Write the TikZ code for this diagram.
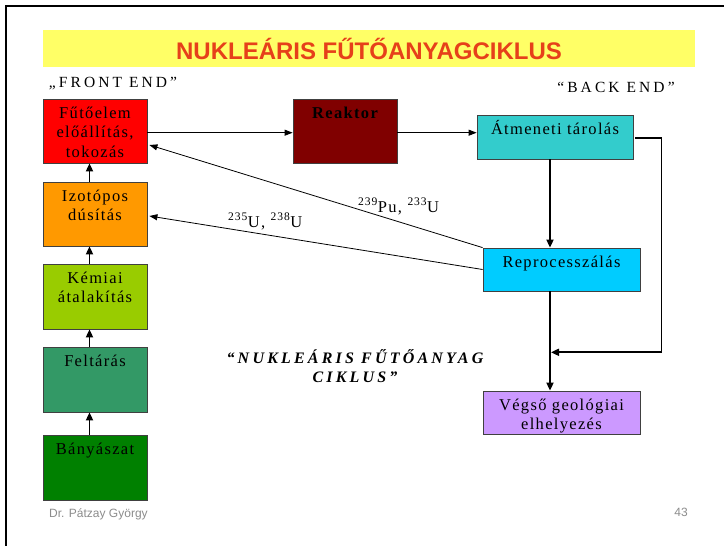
\documentclass[tikz,border=0pt]{standalone}
\usepackage{fontspec}
\setmainfont{Liberation Serif}
\newfontfamily\boxfam{Liberation Serif}[LetterSpace=8]
\newfontfamily\widefam{Liberation Serif}[LetterSpace=20]
\newfontfamily\sansfam{Liberation Sans}
\usetikzlibrary{arrows.meta}

\definecolor{bandyellow}{HTML}{FFFF66}
\definecolor{titlered}{HTML}{E6401A}
\definecolor{fuelred}{HTML}{FF0000}
\definecolor{enrichorange}{HTML}{FF9900}
\definecolor{chemgreen}{HTML}{99CC00}
\definecolor{millgreen}{HTML}{339966}
\definecolor{minegreen}{HTML}{008000}
\definecolor{reactorred}{HTML}{800000}
\definecolor{storageteal}{HTML}{33CCCC}
\definecolor{reprocblue}{HTML}{00CCFF}
\definecolor{finalviolet}{HTML}{CC99FF}
\definecolor{footgray}{HTML}{8C8C8C}

% top-aligned text block of a given box size
\newcommand\toptext[3]{\parbox[c][#2][t]{#1}{\centering\rule{0pt}{19pt}#3}}

\tikzset{
  stage/.style={draw=black!75, line width=0.8pt, inner sep=0pt,
                font=\boxfam\fontsize{16.5}{19.5}\selectfont},
  arr/.style={-{Triangle[length=8pt,width=6pt]}, line width=0.8pt},
  thickarr/.style={-{Triangle[length=8pt,width=7pt]}, line width=1.8pt},
  note/.style={font=\boxfam\fontsize{16.5}{19}\selectfont, inner sep=0pt},
  wide/.style={font=\widefam\fontsize{15.5}{18}\selectfont, inner sep=0pt},
  foot/.style={font=\sansfam\fontsize{12}{14}\selectfont, text=footgray, inner sep=0pt}
}

\begin{document}
\begin{tikzpicture}[x=1pt,y=-1pt]
\useasboundingbox (0,0) rectangle (724,546);
\fill[white] (0,0) rectangle (724,546);

% slide frame
\draw[line width=2.4pt] (6,546) -- (6,6) -- (724,6);

% title band
\fill[bandyellow] (43,30) rectangle (695,67);
\node[font=\sansfam\bfseries\fontsize{24}{28}\selectfont, text=titlered, inner sep=0pt]
  (title) at (369,48.5) {NUKLEÁRIS FŰTŐANYAGCIKLUS};

\node[wide, anchor=base] (front) at (113,87) {„FRONT END”};
\node[wide, anchor=base] (back) at (616,92) {“BACK END”};

% front end column
\node[stage, fill=fuelred] (fuel) at (95,131) {\toptext{104pt}{64pt}{Fűtőelem\\előállítás,\\tokozás}};
\node[stage, fill=enrichorange] (enrich) at (95,214) {\toptext{104pt}{64pt}{Izotópos\\dúsítás}};
\node[stage, fill=chemgreen] (chem) at (95,296.5) {\toptext{104pt}{65pt}{Kémiai\\átalakítás}};
\node[stage, fill=millgreen] (mill) at (95,379.5) {\toptext{104pt}{65pt}{Feltárás}};
\node[stage, fill=minegreen] (mine) at (95,467.5) {\toptext{104pt}{65pt}{Bányászat}};

% reactor and back end
\node[stage, fill=reactorred] (reactor) at (345,131) {\toptext{104pt}{64pt}{\bfseries Reaktor}};
\node[stage, fill=storageteal] (storage) at (555,137) {\toptext{156pt}{44pt}{Átmeneti tárolás}};
\node[stage, fill=reprocblue] (reproc) at (561.5,269.5) {\toptext{157pt}{43pt}{Reprocesszálás}};
\node[stage, fill=finalviolet] (final) at (561.5,412.5) {\toptext{157pt}{43pt}{Végső geológiai\\elhelyezés}};

% connectors
\coordinate (lcol) at (89.5,0);
\draw[thickarr] (mine.north -| lcol) -- (mill.south -| lcol);
\draw[thickarr] (mill.north -| lcol) -- (chem.south -| lcol);
\draw[thickarr] (chem.north -| lcol) -- (enrich.south -| lcol);
\draw[thickarr] (enrich.north -| lcol) -- (fuel.south -| lcol);

\draw[arr] ([yshift=-1.7pt]fuel.east) -- ([yshift=-1.7pt]reactor.west);
\draw[arr] ([yshift=-1.7pt]reactor.east) -- ([yshift=-1.7pt]reactor.east -| storage.west);

\coordinate (col) at (550,0);
\draw[thickarr] (storage.south -| col) -- (reproc.north -| col);
\draw[thickarr] (reproc.south -| col) -- (final.north -| col);

\coordinate (bypassA) at (661.5,137.7);
\coordinate (bypassB) at (661.5,352.3);
\draw[thickarr, line join=miter] ([xshift=2pt,yshift=-0.7pt]storage.east) -- (bypassA) -- (bypassB) -- ([xshift=1pt]bypassB -| col);

\draw[arr] (reproc.north west) -- ([xshift=2pt,yshift=-14pt]fuel.east);
\draw[arr] (reproc.west) -- ([xshift=2pt,yshift=-2pt]enrich.east);

% recycled material labels
\node[note, anchor=base west] (puLabel) at (358,212) {\textsuperscript{239}Pu, \textsuperscript{233}U};
\node[note, anchor=base west] (uLabel) at (228,227) {\textsuperscript{235}U, \textsuperscript{238}U};

% caption
\node[font=\widefam\bfseries\itshape\fontsize{16}{19}\selectfont, align=center, inner sep=0pt, anchor=north]
  (cycle) at (355,349.7) {\strut“NUKLEÁRIS FŰTŐANYAG\\CIKLUS”};

% footer
\node[foot, anchor=base west] (author) at (49,517) {Dr. Pátzay György};
\node[foot, anchor=base east] (page) at (688,516.5) {43};
\end{tikzpicture}
\end{document}
